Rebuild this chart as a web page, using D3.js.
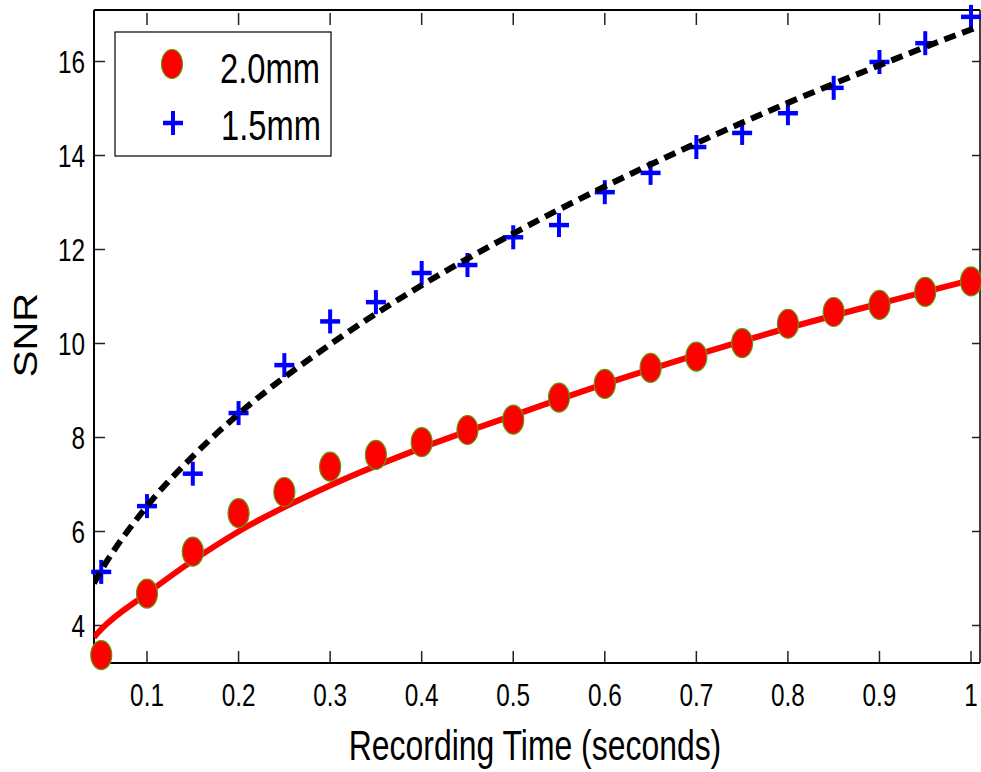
<!DOCTYPE html>
<html>
<head>
<meta charset="utf-8">
<script src="https://cdn.jsdelivr.net/npm/d3@7"></script>
<style>
  body { margin: 0; background: #fff; }
  text { font-family: "Liberation Sans", Arial, sans-serif; fill: #000; }
</style>
</head>
<body>
<script>
// recording times (seconds)
var times = [0.05, 0.1, 0.15, 0.2, 0.25, 0.3, 0.35, 0.4, 0.45, 0.5,
             0.55, 0.6, 0.65, 0.7, 0.75, 0.8, 0.85, 0.9, 0.95, 1.0];
// measured SNR, 2.0mm
var snr20 = [3.37, 4.68, 5.57, 6.39, 6.84, 7.38, 7.63, 7.90, 8.16, 8.38,
             8.85, 9.14, 9.48, 9.72, 10.01, 10.42, 10.67, 10.82, 11.10, 11.32];
// measured SNR, 1.5mm
var snr15 = [5.14, 6.54, 7.23, 8.52, 9.54, 10.47, 10.88, 11.50, 11.67, 12.26,
             12.52, 13.22, 13.63, 14.18, 14.48, 14.90, 15.44, 15.99, 16.39, 16.95];
// fitted curves
var fitTimes = [0.042, 0.05, 0.1, 0.15, 0.2, 0.3, 0.4, 0.5, 0.6, 0.7, 0.8, 0.9, 1.0, 1.01];
var fit20 = [3.75, 3.92, 4.68, 5.38, 6.0, 6.98, 7.78, 8.47, 9.14, 9.76, 10.33, 10.85, 11.35, 11.4];
var fit15 = [4.9, 5.17, 6.54, 7.6, 8.5, 9.98, 11.24, 12.34, 13.34, 14.26, 15.12, 15.92, 16.68, 16.75];
// ticks
var xTicks = [0.1, 0.2, 0.3, 0.4, 0.5, 0.6, 0.7, 0.8, 0.9, 1];
var xTickLabels = ["0.1", "0.2", "0.3", "0.4", "0.5", "0.6", "0.7", "0.8", "0.9", "1"];
var yTicks = [4, 6, 8, 10, 12, 14, 16];
var legendLabels = ["2.0mm", "1.5mm"];

var W = 981, H = 772;
var Left = 94, Top = 10, Right = 980, Bottom = 663;
var Squeeze = 0.76;

var svg = d3.select("body").append("svg")
    .attr("width", W)
    .attr("height", H);

var xScale = d3.scaleLinear().domain([0.0421, 1.0098]).range([Left, Right]);
var yScale = d3.scaleLinear().domain([3.202, 17.096]).range([Bottom, Top]);

// squeezed text helper (the chart fonts look horizontally condensed)
function label(x, y, str, size, anchor) {
  return svg.append("text")
    .attr("transform", "translate(" + x + "," + y + ") scale(" + Squeeze + ",1)")
    .attr("text-anchor", anchor)
    .attr("font-size", size + "px")
    .text(str);
}

svg.append("clipPath").attr("id", "plotclip")
  .append("rect")
  .attr("x", Left).attr("y", Top)
  .attr("width", Right - Left).attr("height", Bottom - Top);

// ticks, inward on all four sides
var tickG = svg.append("g").attr("stroke", "#222").attr("stroke-width", 1.5);
xTicks.forEach(function(t) {
  var x = xScale(t);
  tickG.append("line").attr("x1", x).attr("x2", x).attr("y1", Bottom).attr("y2", Bottom - 12);
  tickG.append("line").attr("x1", x).attr("x2", x).attr("y1", Top + 3).attr("y2", Top + 15);
});
yTicks.forEach(function(v) {
  var y = yScale(v);
  tickG.append("line").attr("x1", Left).attr("x2", Left + 11).attr("y1", y).attr("y2", y);
  tickG.append("line").attr("x1", Right).attr("x2", Right - 8).attr("y1", y).attr("y2", y);
});

// frame
svg.append("line").attr("x1", Left).attr("x2", Right).attr("y1", Top).attr("y2", Top)
  .attr("stroke", "#000").attr("stroke-width", 2);
svg.append("line").attr("x1", Left).attr("x2", Right).attr("y1", Bottom).attr("y2", Bottom)
  .attr("stroke", "#000").attr("stroke-width", 2);
svg.append("line").attr("x1", Left).attr("x2", Left).attr("y1", Top).attr("y2", Bottom)
  .attr("stroke", "#000").attr("stroke-width", 2);
svg.append("line").attr("x1", Right).attr("x2", Right).attr("y1", Top).attr("y2", Bottom)
  .attr("stroke", "#000").attr("stroke-width", 1.5);

// tick labels
xTicks.forEach(function(t, i) {
  label(xScale(t), 706, xTickLabels[i], 32, "middle");
});
yTicks.forEach(function(v) {
  label(85, yScale(v) + 11.5, String(v), 32, "end");
});

// axis titles
label(535, 760, "Recording Time (seconds)", 42, "middle");
svg.append("text")
  .attr("transform", "translate(37,335) scale(0.82,1) rotate(-90)")
  .attr("text-anchor", "middle")
  .attr("font-size", "40px")
  .text("SNR");

// fitted lines
var line = d3.line()
  .x(function(d) { return xScale(d[0]); })
  .y(function(d) { return yScale(d[1]); })
  .curve(d3.curveMonotoneX);

var plot = svg.append("g").attr("clip-path", "url(#plotclip)");

plot.append("path")
  .datum(d3.zip(fitTimes, fit20))
  .attr("d", line)
  .attr("fill", "none")
  .attr("stroke", "#ff0000")
  .attr("stroke-width", 6);

// red circles (drawn as ellipses, like the squeezed original)
function redDot(g, cx, cy) {
  g.append("ellipse")
    .attr("cx", cx).attr("cy", cy)
    .attr("rx", 10.5).attr("ry", 14.5)
    .attr("fill", "#ff0000")
    .attr("stroke", "#5f9a10")
    .attr("stroke-width", 1.2);
}
var dots = svg.append("g");
d3.zip(times, snr20).forEach(function(d) {
  redDot(dots, xScale(d[0]), yScale(d[1]));
});

// blue plus markers
function bluePlus(g, cx, cy) {
  g.append("line").attr("x1", cx - 10).attr("x2", cx + 10).attr("y1", cy).attr("y2", cy)
    .attr("stroke", "#0000ff").attr("stroke-width", 4.5);
  g.append("line").attr("x1", cx).attr("x2", cx).attr("y1", cy - 12).attr("y2", cy + 12)
    .attr("stroke", "#0000ff").attr("stroke-width", 4);
}
var pluses = svg.append("g");
d3.zip(times, snr15).forEach(function(d) {
  bluePlus(pluses, xScale(d[0]), yScale(d[1]));
});

svg.append("g").attr("clip-path", "url(#plotclip)")
  .append("path")
  .datum(d3.zip(fitTimes, fit15))
  .attr("d", line)
  .attr("fill", "none")
  .attr("stroke", "#000")
  .attr("stroke-width", 6)
  .attr("stroke-dasharray", "12,7");

// legend
var legend = svg.append("g");
legend.append("rect")
  .attr("x", 115).attr("y", 32)
  .attr("width", 216).attr("height", 124)
  .attr("fill", "#fff")
  .attr("stroke", "#000")
  .attr("stroke-width", 1.2);
redDot(legend, 172, 64);
bluePlus(legend, 173, 123);
label(220, 83, legendLabels[0], 43, "start");
label(221, 140, legendLabels[1], 43, "start");
</script>
</body>
</html>
